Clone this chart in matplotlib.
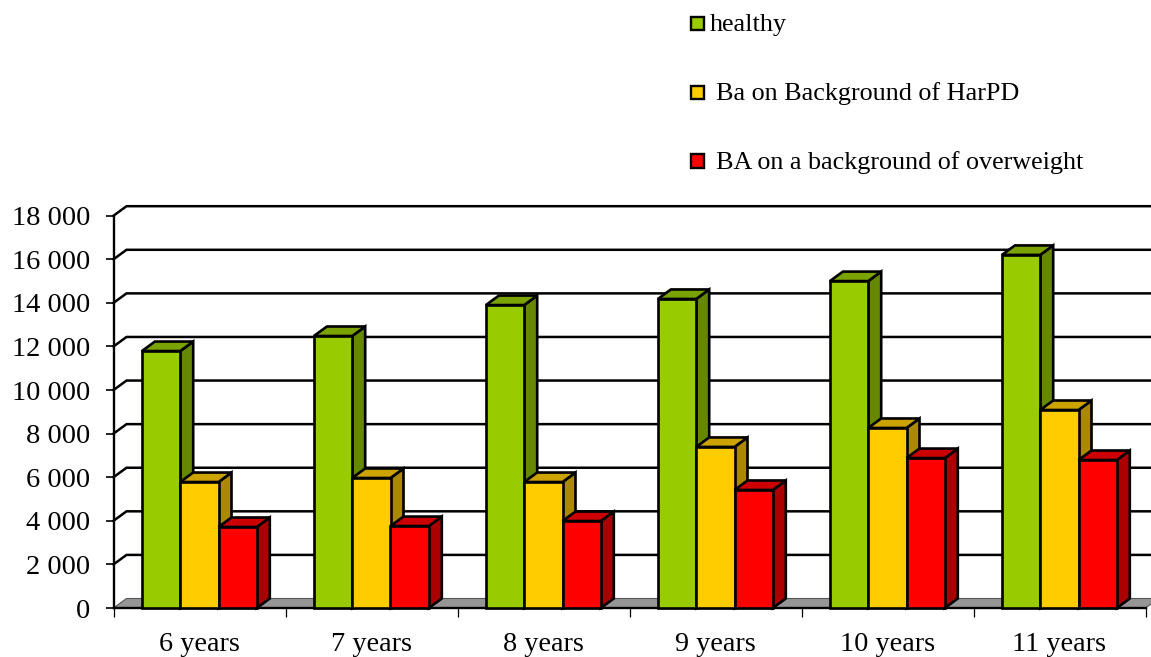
import matplotlib
matplotlib.use("Agg")
import matplotlib.pyplot as plt
from matplotlib.patches import Polygon, Rectangle

plt.rcParams['font.family'] = ['Liberation Serif', 'DejaVu Serif']

categories = ['6 years', '7 years', '8 years', '9 years', '10 years', '11 years']
healthy = [11790, 12480, 13900, 14180, 15000, 16200]
harpd = [5780, 5965, 5780, 7390, 8260, 9085]
overweight = [3717, 3760, 3990, 5415, 6880, 6790]
series_names = ['healthy', 'Ba on Background of HarPD', 'BA on a background of overweight']
y_ticks = list(range(0, 18001, 2000))

W, H = 1151, 657
fig = plt.figure(figsize=(W / 100, H / 100), dpi=100, facecolor='white')
L, R, T, B = 113.5, 1145.5, 215.7, 608.0
ax = fig.add_axes([L / W, 1 - B / H, (R - L) / W, (B - T) / H])
ax.set_xlim(0, len(categories))
ax.set_ylim(0, 18000)

# depth of the 3D look, from pixels to data units
px_x = len(categories) / (R - L)
px_y = 18000 / (B - T)
dx, dy = 13 * px_x, 9.5 * px_y
LW = 1.9

for v in y_ticks[1:]:
    ax.plot([0, dx, len(categories) + dx], [v, v + dy, v + dy], color='black', lw=1.8,
            clip_on=False, zorder=1, solid_joinstyle='miter')
ax.add_patch(Polygon([(0, 0), (dx, dy), (len(categories) + dx, dy), (len(categories), 0)],
                     closed=True, fc='#969696', ec='#555555', lw=0.8, clip_on=False, zorder=1))

palettes = [('#99CC00', '#7AA300', '#668800'),
            ('#FFCC00', '#CCA300', '#AA8800'),
            ('#FF0000', '#CC0000', '#AA0000')]
bar_w = 38.3 * px_x
group_start = (86 - 57.6) * px_x

z = 2
for i in range(len(categories)):
    for j, vals in enumerate([healthy, harpd, overweight]):
        x0 = i + group_start + j * bar_w
        x1 = x0 + bar_w
        v = vals[i]
        front, top, side = palettes[j]
        ax.add_patch(Polygon([(x1, 0), (x1 + dx, dy), (x1 + dx, v + dy), (x1, v)], closed=True,
                             fc=side, ec='black', lw=LW, clip_on=False, zorder=z, joinstyle='miter'))
        ax.add_patch(Polygon([(x0, v), (x0 + dx, v + dy), (x1 + dx, v + dy), (x1, v)], closed=True,
                             fc=top, ec='black', lw=LW, clip_on=False, zorder=z, joinstyle='miter'))
        ax.bar(x0, v, width=bar_w, align='edge', color=front, edgecolor='black', lw=LW,
               clip_on=False, zorder=z)
        z += 1

for s in ('top', 'right'):
    ax.spines[s].set_visible(False)
for s in ('left', 'bottom'):
    ax.spines[s].set_linewidth(1.7)
    ax.spines[s].set_zorder(1.5)

ax.set_yticks(y_ticks)
ax.set_yticklabels([f'{v:,}'.replace(',', ' ') for v in y_ticks], fontsize=20.5)
ax.tick_params(axis='y', length=5.8, width=1.2, pad=11)
ax.set_xticks(range(len(categories) + 1))
ax.set_xticklabels([])
ax.tick_params(axis='x', which='major', length=6.5, width=0.9)
ax.set_xticks([i + 0.5 for i in range(len(categories))], minor=True)
ax.set_xticklabels(categories, minor=True, fontsize=20.3)
ax.tick_params(axis='x', which='minor', length=0, pad=17.5)

legend_y = [25, 94, 163]
legend_tx = [710, 716.5, 716.5]
for name, y, tx, pal in zip(series_names, legend_y, legend_tx, palettes):
    fig.add_artist(Rectangle((691 / W, 1 - (y + 4.5) / H), 13 / W, 13 / H, transform=fig.transFigure,
                             fc=pal[0], ec='black', lw=1.7))
    fig.text(tx / W, 1 - (y - 0.5) / H, name, fontsize=18.8, va='center', ha='left', color='black')

fig.savefig('out.png', dpi=100)
